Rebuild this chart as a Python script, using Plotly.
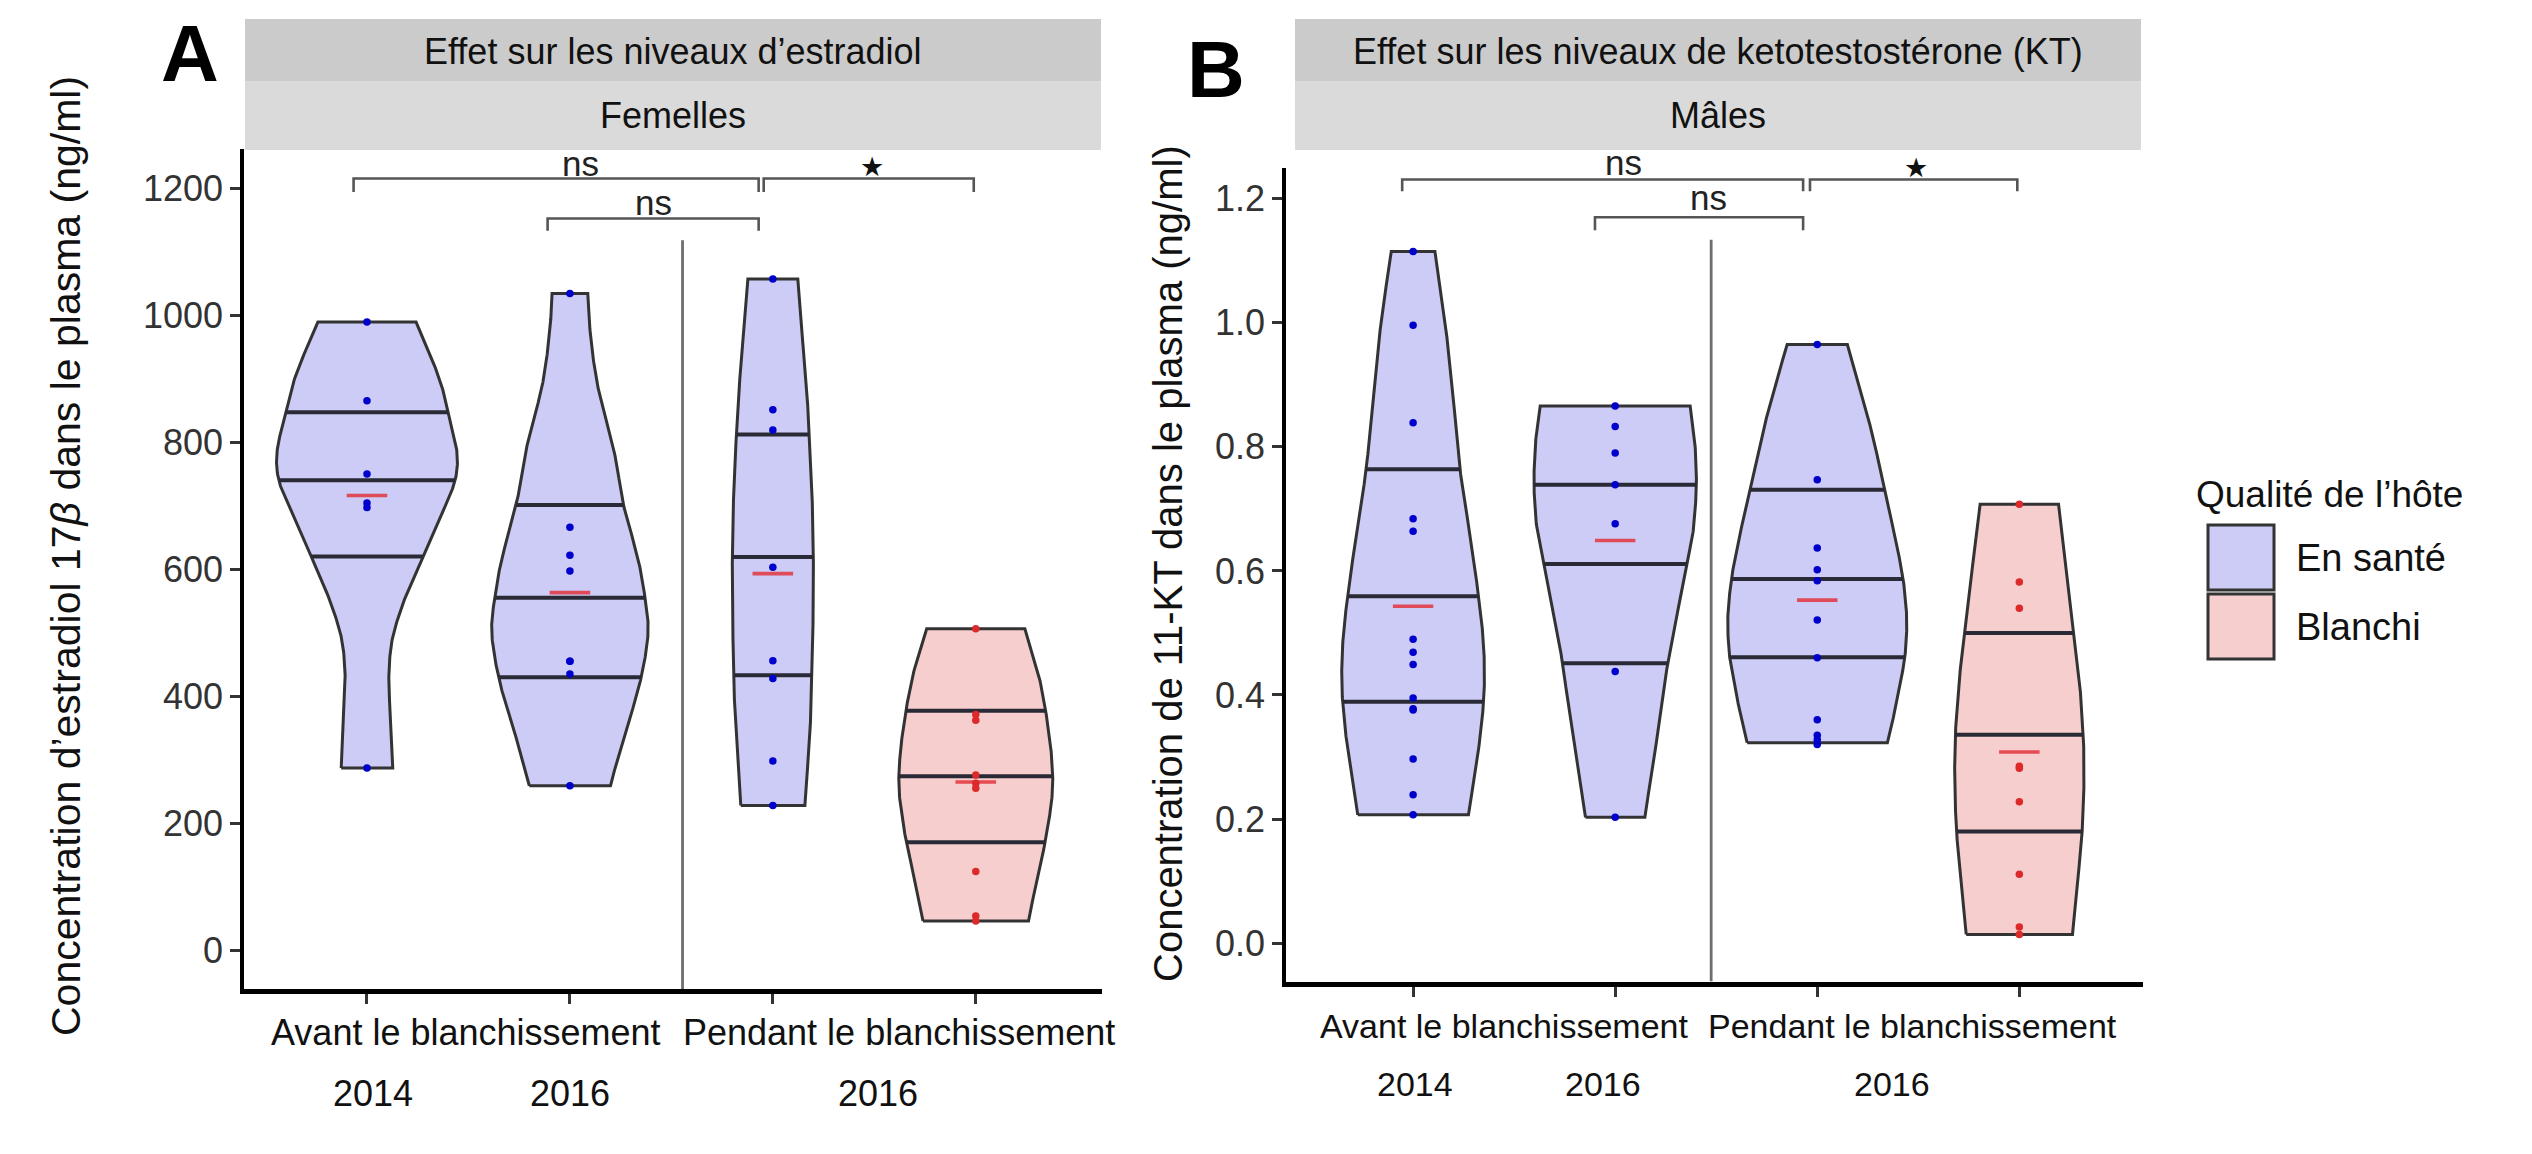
import numpy as np
import plotly.graph_objects as go

W, H = 2532, 1154
FONT = "Liberation Sans"

# ---------------- data ----------------
positions = [1, 2, 3, 4]
host_quality = ["En santé", "En santé", "En santé", "Blanchi"]
group_labels = ["Avant le blanchissement", "Pendant le blanchissement"]
year_labels = ["2014", "2016", "2016"]

# Panel A : estradiol (ng/ml), femelles
estradiol_points = [
    [989, 865, 750, 704, 697, 287],
    [1034, 666, 622, 597, 455, 455, 435, 259],
    [1057, 851, 819, 603, 456, 428, 298, 228],
    [506, 371, 362, 276, 263, 255, 124, 54, 46],
]
estradiol_means = [716, 563, 593, 265]
estradiol_quartiles = [[620, 740, 847], [430, 555, 701], [433, 619, 812], [170, 274, 377]]
estradiol_density_levels = [
    [287, 330, 380, 433, 489, 547, 619, 688, 738, 761, 795, 846, 885, 941, 989],
    [259, 321, 377, 433, 491, 517, 555, 604, 660, 701, 772, 829, 885, 941, 997, 1034],
    [228, 265, 321, 377, 433, 547, 619, 716, 812, 885, 941, 997, 1057],
    [46, 124, 169, 237, 273, 321, 377, 433, 506],
]
estradiol_density_width = [
    [0.127, 0.120, 0.113, 0.105, 0.119, 0.176, 0.273, 0.370, 0.440, 0.450, 0.444, 0.398, 0.376, 0.308, 0.242],
    [0.200, 0.250, 0.308, 0.356, 0.387, 0.390, 0.370, 0.347, 0.300, 0.260, 0.229, 0.185, 0.136, 0.110, 0.092, 0.088],
    [0.158, 0.165, 0.180, 0.188, 0.193, 0.200, 0.200, 0.194, 0.180, 0.167, 0.152, 0.136, 0.123],
    [0.260, 0.308, 0.343, 0.376, 0.381, 0.370, 0.345, 0.312, 0.242],
]
estradiol_ticks = [0, 200, 400, 600, 800, 1000, 1200]

# Panel B : 11-KT (ng/ml), males
kt_points = [
    [1.115, 0.996, 0.839, 0.684, 0.664, 0.490, 0.469, 0.449, 0.395, 0.378, 0.376, 0.297, 0.239, 0.207],
    [0.866, 0.833, 0.790, 0.739, 0.676, 0.438, 0.203],
    [0.965, 0.747, 0.637, 0.602, 0.584, 0.521, 0.460, 0.360, 0.335, 0.328, 0.320],
    [0.7075, 0.582, 0.540, 0.285, 0.282, 0.228, 0.111, 0.026, 0.014],
]
kt_means = [0.543, 0.649, 0.553, 0.308]
kt_quartiles = [[0.389, 0.559, 0.764], [0.451, 0.611, 0.739], [0.461, 0.587, 0.731], [0.180, 0.336, 0.500]]
kt_density_levels = [
    [0.207, 0.259, 0.317, 0.389, 0.434, 0.490, 0.559, 0.664, 0.764, 0.895, 1.010, 1.115],
    [0.203, 0.288, 0.374, 0.451, 0.549, 0.611, 0.664, 0.739, 0.808, 0.866],
    [0.323, 0.363, 0.403, 0.461, 0.520, 0.587, 0.664, 0.731, 0.808, 0.895, 0.965],
    [0.014, 0.086, 0.180, 0.259, 0.336, 0.432, 0.500, 0.607, 0.7075],
]
kt_density_width = [
    [0.274, 0.299, 0.327, 0.351, 0.355, 0.349, 0.325, 0.279, 0.230, 0.195, 0.156, 0.108],
    [0.147, 0.186, 0.230, 0.258, 0.318, 0.354, 0.389, 0.404, 0.396, 0.371],
    [0.347, 0.377, 0.402, 0.436, 0.446, 0.427, 0.380, 0.331, 0.283, 0.212, 0.149],
    [0.263, 0.285, 0.312, 0.321, 0.318, 0.296, 0.271, 0.232, 0.194],
]
kt_ticks = [0.0, 0.2, 0.4, 0.6, 0.8, 1.0, 1.2]
kt_ticktext = ["0.0", "0.2", "0.4", "0.6", "0.8", "1.0", "1.2"]

# significance brackets: (x start, x end, height, tip bottom, label, label x, label y)
brackets_A = [
    (0.934, 2.930, 1215, 1194, "ns", 2.05, 1239),
    (1.890, 2.930, 1152, 1133, "ns", 2.41, 1178),
    (2.955, 3.990, 1215, 1194, "★", 3.49, 1234),
]
brackets_B = [
    (0.946, 2.930, 1.231, 1.212, "ns", 2.04, 1.258),
    (1.900, 2.930, 1.170, 1.149, "ns", 2.46, 1.202),
    (2.964, 3.990, 1.231, 1.212, "★", 3.49, 1.251),
]

# ---------------- style ----------------
FILL = {"En santé": "rgb(204,204,247)", "Blanchi": "rgb(246,206,206)"}
DOT = {"En santé": "#0000cc", "Blanchi": "#dc2a2a"}
OUTLINE = "#333333"


def px(x):
    return x / W


def py(y):
    return 1 - y / H


XA_DOM, XA_RNG = [px(236), px(1093.6)], [0.394, 4.62]
YA_DOM, YA_RNG = [py(981), py(140.7)], [-61, 1262]
XB_DOM, XB_RNG = [px(1278), px(2134.6)], [0.371, 4.61]
YB_DOM, YB_RNG = [py(973.6), py(160)], [-0.062, 1.2495]


def to_paper_y(v, dom, rng):
    return dom[0] + (v - rng[0]) / (rng[1] - rng[0]) * (dom[1] - dom[0])


def smooth_profile(levels, widths, n=320, sigma=8):
    lv = np.asarray(levels, float)
    wd = np.asarray(widths, float)
    y = np.linspace(lv[0], lv[-1], n)
    w = np.interp(y, lv, wd)
    pad = 3 * sigma
    wp = np.pad(w, pad, mode="reflect", reflect_type="odd")
    k = np.arange(-pad, pad + 1)
    ker = np.exp(-0.5 * (k / sigma) ** 2)
    ker /= ker.sum()
    ws = np.convolve(wp, ker, mode="same")[pad:-pad]
    return y, ws


fig = go.Figure()
extra_annotations = []


def add_panel(xref, yref, ydom, yrng, points, means, quartiles, levels, widths, sep_x, sep_top, brackets,
              mean_hw=0.1):
    fig.add_trace(go.Scatter(x=[sep_x, sep_x], y=[yrng[0], sep_top], mode="lines",
                             line=dict(color="#6e6e6e", width=2.8), xaxis=xref, yaxis=yref,
                             showlegend=False, hoverinfo="skip"))
    for i, pos in enumerate(positions):
        hq = host_quality[i]
        yy, ww = smooth_profile(levels[i], widths[i])
        xs = np.concatenate([pos - ww, (pos + ww)[::-1], [pos - ww[0]]])
        ys = np.concatenate([yy, yy[::-1], [yy[0]]])
        fig.add_trace(go.Scatter(x=xs, y=ys, mode="lines", fill="toself", fillcolor=FILL[hq],
                                 line=dict(color=OUTLINE, width=3), xaxis=xref, yaxis=yref,
                                 showlegend=False, hoverinfo="skip"))
        qx, qy = [], []
        for q in quartiles[i]:
            hw = float(np.interp(q, yy, ww))
            qx += [pos - hw, pos + hw, None]
            qy += [q, q, None]
        fig.add_trace(go.Scatter(x=qx, y=qy, mode="lines", line=dict(color="#2a2a36", width=4),
                                 xaxis=xref, yaxis=yref, showlegend=False, hoverinfo="skip"))
        fig.add_trace(go.Scatter(x=[pos - mean_hw, pos + mean_hw], y=[means[i], means[i]], mode="lines",
                                 line=dict(color="rgba(226,52,60,0.85)", width=3.6),
                                 xaxis=xref, yaxis=yref, showlegend=False, hoverinfo="skip"))
        fig.add_trace(go.Scatter(x=[pos] * len(points[i]), y=points[i], mode="markers",
                                 marker=dict(color=DOT[hq], size=7.5, line=dict(width=0)),
                                 xaxis=xref, yaxis=yref, showlegend=False))
    for (x0, x1, yt, yb, lab, lx, ly) in brackets:
        fig.add_trace(go.Scatter(x=[x0, x0, x1, x1], y=[yb, yt, yt, yb], mode="lines",
                                 line=dict(color="#555555", width=2.6), xaxis=xref, yaxis=yref,
                                 showlegend=False, hoverinfo="skip", cliponaxis=False))
        if lab == "★":
            f = dict(family="DejaVu Sans", size=27, color="#111")
        else:
            f = dict(family=FONT, size=35, color="#222")
        extra_annotations.append(dict(x=lx, y=to_paper_y(ly, ydom, yrng), xref=xref, yref="paper",
                                      text=lab, showarrow=False, font=f,
                                      xanchor="center", yanchor="middle"))


add_panel("x", "y", YA_DOM, YA_RNG, estradiol_points, estradiol_means, estradiol_quartiles,
          estradiol_density_levels, estradiol_density_width, 2.555, 1118, brackets_A)
add_panel("x2", "y2", YB_DOM, YB_RNG, kt_points, kt_means, kt_quartiles,
          kt_density_levels, kt_density_width, 2.475, 1.134, brackets_B)

axis_common = dict(showgrid=False, zeroline=False, showline=True, linecolor="black",
                   ticks="outside", tickcolor="#333333", ticklen=10, tickwidth=3)

fig.update_layout(
    width=W, height=H, margin=dict(l=0, r=0, t=0, b=0),
    paper_bgcolor="white", plot_bgcolor="white", showlegend=False,
    font=dict(family=FONT, color="#222"),
    xaxis=dict(domain=XA_DOM, range=XA_RNG, tickvals=positions,
               showticklabels=False, linewidth=5, anchor="y", **axis_common),
    yaxis=dict(domain=YA_DOM, range=YA_RNG, tickvals=estradiol_ticks,
               tickfont=dict(family=FONT, size=36, color="#333"), linewidth=3.5, anchor="x",
               **axis_common),
    xaxis2=dict(domain=XB_DOM, range=XB_RNG, tickvals=positions,
                showticklabels=False, linewidth=5, anchor="y2", **axis_common),
    yaxis2=dict(domain=YB_DOM, range=YB_RNG, tickvals=kt_ticks,
                ticktext=kt_ticktext, tickfont=dict(family=FONT, size=36, color="#333"),
                linewidth=3.5, anchor="x2", **axis_common),
)

shapes = []
annotations = []
# facet strips
for (x0, x1) in [(237, 1093), (1287, 2133)]:
    shapes.append(dict(type="rect", xref="paper", yref="paper", x0=px(x0), x1=px(x1), y0=py(73), y1=py(11),
                       fillcolor="#cbcbcb", line=dict(width=0), layer="below"))
    shapes.append(dict(type="rect", xref="paper", yref="paper", x0=px(x0), x1=px(x1), y0=py(142), y1=py(73),
                       fillcolor="#dadada", line=dict(width=0), layer="below"))
strip_texts = [
    ((237 + 1093) / 2, 43, "Effet sur les niveaux d’estradiol"),
    ((237 + 1093) / 2, 107, "Femelles"),
    ((1287 + 2133) / 2, 43, "Effet sur les niveaux de ketotestostérone (KT)"),
    ((1287 + 2133) / 2, 107, "Mâles"),
]
for (x, y, t) in strip_texts:
    annotations.append(dict(x=px(x), y=py(y), xref="paper", yref="paper", text=t, showarrow=False,
                            font=dict(family=FONT, size=36, color="#111"), xanchor="center", yanchor="middle"))

# panel letters
annotations.append(dict(x=px(182), y=py(45), xref="paper", yref="paper", text="<b>A</b>", showarrow=False,
                        font=dict(family=FONT, size=80, color="black"), xanchor="center", yanchor="middle"))
annotations.append(dict(x=px(1208), y=py(62), xref="paper", yref="paper", text="<b>B</b>", showarrow=False,
                        font=dict(family=FONT, size=80, color="black"), xanchor="center", yanchor="middle"))

# y axis titles
annotations.append(dict(x=px(58), y=py(548), xref="paper", yref="paper",
                        text="Concentration d’estradiol 17<i>β</i> dans le plasma (ng/ml)", textangle=-90,
                        showarrow=False, font=dict(family=FONT, size=41, color="#111"),
                        xanchor="center", yanchor="middle"))
annotations.append(dict(x=px(1160), y=py(556), xref="paper", yref="paper",
                        text="Concentration de 11-KT dans le plasma (ng/ml)", textangle=-90,
                        showarrow=False, font=dict(family=FONT, size=40, color="#111"),
                        xanchor="center", yanchor="middle"))

# x group labels (data x, paper y)
for xref, gx, yx, ylab, yyear, fs in [
    ("x", [1.49, 3.62], [1.03, 2.0, 3.52], 1024, 1085, 36),
    ("x2", [1.45, 3.47], [1.01, 1.94, 3.37], 1018, 1076, 34),
]:
    for g, t in zip(gx, group_labels):
        annotations.append(dict(x=g, y=py(ylab), xref=xref, yref="paper", text=t, showarrow=False,
                                font=dict(family=FONT, size=fs, color="#111"), xanchor="center", yanchor="middle"))
    for g, t in zip(yx, year_labels):
        annotations.append(dict(x=g, y=py(yyear), xref=xref, yref="paper", text=t, showarrow=False,
                                font=dict(family=FONT, size=fs, color="#111"), xanchor="center", yanchor="middle"))

# legend
annotations.append(dict(x=px(2186), y=py(486), xref="paper", yref="paper", text="Qualité de l’hôte",
                        showarrow=False, font=dict(family=FONT, size=37, color="#111"),
                        xanchor="left", yanchor="middle"))
for (hq, y0, y1) in [("En santé", 517, 582), ("Blanchi", 586, 651)]:
    shapes.append(dict(type="rect", xref="paper", yref="paper", x0=px(2200), x1=px(2266), y0=py(y1), y1=py(y0),
                       fillcolor=FILL[hq], line=dict(color=OUTLINE, width=3)))
    annotations.append(dict(x=px(2286), y=py((y0 + y1) / 2), xref="paper", yref="paper", text=hq,
                            showarrow=False, font=dict(family=FONT, size=38, color="#111"),
                            xanchor="left", yanchor="middle"))

fig.update_layout(shapes=shapes, annotations=annotations + extra_annotations)

fig.write_html("out.html")
